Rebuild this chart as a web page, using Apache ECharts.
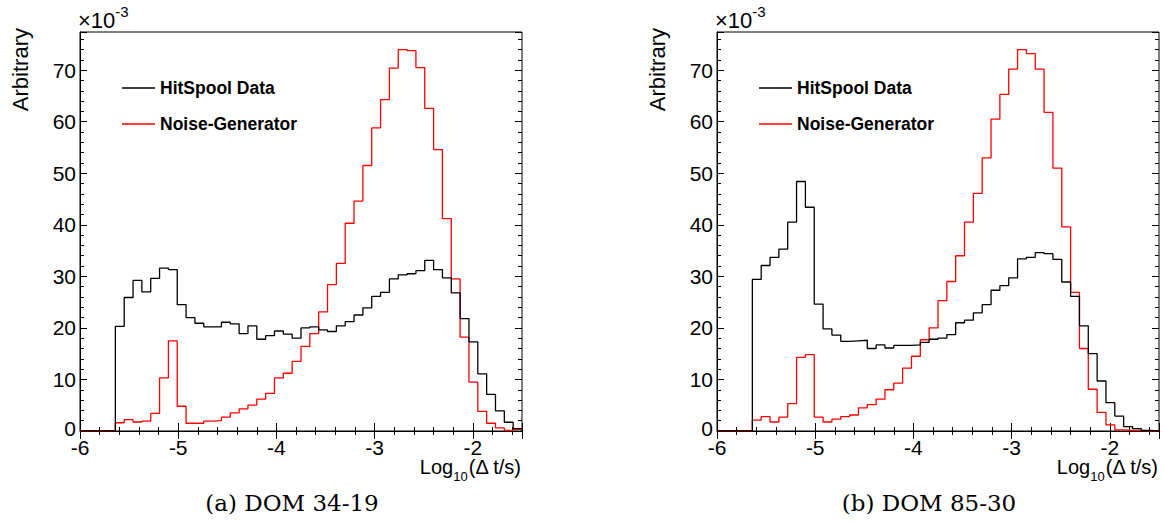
<!DOCTYPE html>
<html lang="en">
<head>
  <meta charset="UTF-8">
  <title>HitSpool vs Noise-Generator</title>
  <script src="https://cdn.jsdelivr.net/npm/echarts@6/dist/echarts.min.js"></script>
  <style>
    html, body { margin: 0; padding: 0; background: #fff; }
  </style>
</head>
<body>
    <div id="main" style="width: 1163px;height:523px;"></div>
    <script type="text/javascript">
        // histogram: 50 bins from -6 to -1.5 in log10(dt/s)
        var binStart = -6;
        var binWidth = 0.09;
        var binCount = 50;

        // DOM 34-19 (left)
        var hitspoolA = [0, 0, 0, 0, 20.3, 25.9, 29.2, 27.0, 29.6, 31.6,
                         31.3, 24.5, 22.0, 20.9, 20.2, 20.2, 21.1, 20.8, 18.9, 20.4,
                         17.8, 18.5, 19.4, 18.8, 18.0, 20.0, 20.2, 19.6, 19.3, 20.4,
                         21.2, 22.5, 23.9, 26.1, 26.9, 29.5, 30.3, 30.5, 31.1, 33.1,
                         31.3, 29.7, 26.8, 21.8, 17.3, 11.1, 7.1, 3.9, 1.7, 0.45];
        var noiseA = [0, 0, 0, 0, 1.6, 2.2, 1.75, 1.9, 3.4, 10.3,
                      17.5, 4.8, 1.5, 1.5, 1.9, 2.0, 2.7, 3.5, 4.3, 5.0,
                      6.2, 7.3, 10.3, 11.2, 13.5, 16.4, 18.9, 23.1, 28.4, 32.5,
                      40.3, 44.6, 51.5, 58.8, 64.3, 70.4, 74.0, 73.8, 70.5, 62.6,
                      54.6, 41.2, 29.5, 18.2, 9.5, 3.8, 1.5, 0.6, 0.1, 0.3];

        // DOM 85-30 (right)
        var hitspoolB = [0, 0, 0, 0, 29.4, 32.1, 33.7, 35.3, 40.5, 48.4,
                         43.4, 24.6, 19.8, 18.6, 17.4, 17.5, 17.6, 16.0, 16.7, 16.1,
                         16.6, 16.6, 16.7, 17.2, 17.8, 18.0, 18.7, 21.0, 21.5, 22.9,
                         24.5, 27.3, 28.2, 29.7, 33.4, 33.7, 34.6, 34.4, 33.3, 28.9,
                         26.1, 20.4, 15.0, 9.7, 5.5, 2.9, 0.85, 0.45, 0.1, 0];
        var noiseB = [0, 0, 0, 0, 2.1, 2.8, 1.75, 2.7, 5.3, 14.3,
                      14.8, 2.7, 1.75, 2.3, 2.8, 3.1, 4.5, 5.1, 6.2, 8.0,
                      9.3, 12.2, 14.5, 17.7, 20.0, 25.3, 29.0, 34.0, 40.5, 46.1,
                      53.0, 60.5, 65.3, 70.2, 74.0, 73.2, 70.2, 61.8, 51.0, 39.6,
                      26.9, 16.0, 8.1, 3.6, 1.2, 0.2, 0.1, 0.1, 0, 0];

        var seriesNames = ['HitSpool Data', 'Noise-Generator'];
        var xTickLabels = [-6, -5, -4, -3, -2];
        var yTickLabels = [0, 10, 20, 30, 40, 50, 60, 70];
        var captions = ['(a) DOM 34-19', '(b) DOM 85-30'];

        var xMin = -6, xMax = -1.5, yMin = 0, yMax = 77.4;
        var sans = 'Liberation Sans, Arial, sans-serif';

        // bin edges -> step points (last edge repeats last value)
        function toSteps(vals) {
            var pts = [];
            for (var i = 0; i < vals.length; i++) {
                pts.push([+(binStart + i * binWidth).toFixed(4), vals[i]]);
            }
            pts.push([+(binStart + binCount * binWidth).toFixed(4), vals[vals.length - 1]]);
            return pts;
        }

        function inList(list, v) {
            for (var i = 0; i < list.length; i++) {
                if (Math.abs(list[i] - v) < 1e-6) return true;
            }
            return false;
        }

        var panels = [
            {left: 80, right: 641, hit: hitspoolA, noise: noiseA},
            {left: 717, right: 4, hit: hitspoolB, noise: noiseB}
        ];

        var grids = [], xAxes = [], yAxes = [], series = [], legends = [], graphics = [];

        panels.forEach(function (p, g) {
            grids.push({left: p.left, right: p.right, top: 32, bottom: 92,
                        show: true, borderColor: '#000', borderWidth: 1, backgroundColor: 'transparent'});

            // x axes: bottom major / minor, top major / minor
            [['bottom', 1, 8, true], ['bottom', 0.2, 4, false], ['top', 1, 8, false], ['top', 0.2, 4, false]].forEach(function (a) {
                xAxes.push({
                    type: 'value', gridIndex: g, position: a[0],
                    min: xMin, max: xMax, interval: a[1],
                    axisLine: {show: a[3], lineStyle: {color: '#000', width: 1}},
                    axisTick: {show: true, inside: true, length: a[2], lineStyle: {color: '#000', width: 1}},
                    splitLine: {show: false},
                    axisLabel: {
                        show: a[3], margin: 9, fontSize: 21, lineHeight: 15, fontFamily: sans, color: '#000',
                        formatter: function (v) { return inList(xTickLabels, v) ? String(Math.round(v)) : ''; }
                    }
                });
            });
            // y axes: left major / minor, right major / minor
            [['left', 10, 7, true], ['left', 2, 4, false], ['right', 10, 7, false], ['right', 2, 4, false]].forEach(function (a) {
                yAxes.push({
                    type: 'value', gridIndex: g, position: a[0],
                    min: yMin, max: yMax, interval: a[1],
                    axisLine: {show: a[3], lineStyle: {color: '#000', width: 1}},
                    axisTick: {show: true, inside: true, length: a[2], lineStyle: {color: '#000', width: 1}},
                    splitLine: {show: false},
                    axisLabel: {
                        show: a[3], margin: 4, fontSize: 21, lineHeight: 15, fontFamily: sans, color: '#000',
                        formatter: function (v) {
                            if (!inList(yTickLabels, v)) return '';
                            return v === 0 ? '{z|0}' : String(Math.round(v));
                        },
                        rich: {z: {fontSize: 21, fontFamily: sans, color: '#000', padding: [0, 0, 6, 0]}}
                    }
                });
            });

            series.push({
                name: seriesNames[1], type: 'line', step: 'end', symbol: 'none',
                xAxisIndex: g * 4, yAxisIndex: g * 4, clip: true,
                lineStyle: {color: '#ff0000', width: 1.3}, itemStyle: {color: '#ff0000'},
                data: toSteps(p.noise), z: 2
            });
            series.push({
                name: seriesNames[0], type: 'line', step: 'end', symbol: 'none',
                xAxisIndex: g * 4, yAxisIndex: g * 4, clip: true,
                lineStyle: {color: '#000', width: 1.3}, itemStyle: {color: '#000'},
                data: toSteps(p.hit), z: 3
            });

            legends.push({
                data: seriesNames, orient: 'vertical', left: p.left + 37, top: 74,
                icon: 'rect', itemWidth: 33, itemHeight: 1.5, itemGap: 18,
                selectedMode: false,
                textStyle: {fontFamily: sans, fontWeight: 'bold', fontSize: 17.5, color: '#000', lineHeight: 18}
            });

            var axisRight = g === 0 ? 522 : 1159;
            // y title
            graphics.push({
                type: 'text', x: p.left - 60, y: 28, rotation: Math.PI / 2,
                style: {text: 'Arbitrary', x: 0, y: 0, fill: '#000', fontSize: 22, fontFamily: sans,
                        align: 'right', verticalAlign: 'middle', textAlign: 'right', textVerticalAlign: 'middle'}
            });
            // exponent
            graphics.push({
                type: 'text', x: p.left - 2, y: 2,
                style: {text: '{a|\u00d710}{b|-3}', x: 0, y: 0, fill: '#000', align: 'left', verticalAlign: 'top',
                        textAlign: 'left', textVerticalAlign: 'top',
                        rich: {a: {fontSize: 22, fontFamily: sans, verticalAlign: 'top', padding: [7, 0, 0, 0]},
                               b: {fontSize: 15, fontFamily: sans, verticalAlign: 'top', padding: [2, 0, 0, 0]}}}
            });
            // x title
            graphics.push({
                type: 'text', x: axisRight - 1, y: 457,
                style: {text: '{a|Log}{s|10}{a|(\u0394 t/s)}', x: 0, y: 0, fill: '#000', align: 'right', verticalAlign: 'top',
                        textAlign: 'right', textVerticalAlign: 'top',
                        rich: {a: {fontSize: 20, fontFamily: sans, verticalAlign: 'top'},
                               s: {fontSize: 13, fontFamily: sans, verticalAlign: 'top', padding: [13, 0, 0, 0]}}}
            });
            // caption
            graphics.push({
                type: 'text', x: g === 0 ? 292 : 929, y: 503,
                style: {text: captions[g], x: 0, y: 0, fill: '#000', fontSize: 23, fontFamily: 'DejaVu Serif, serif',
                        align: 'center', verticalAlign: 'middle', textAlign: 'center', textVerticalAlign: 'middle'}
            });
        });

        var myChart = echarts.init(document.getElementById('main'), null, {renderer: 'svg'});
        var option = {
            animation: false,
            backgroundColor: '#fff',
            grid: grids,
            xAxis: xAxes,
            yAxis: yAxes,
            legend: legends,
            series: series,
            graphic: graphics
        };
        myChart.setOption(option);
    </script>
</body>
</html>
